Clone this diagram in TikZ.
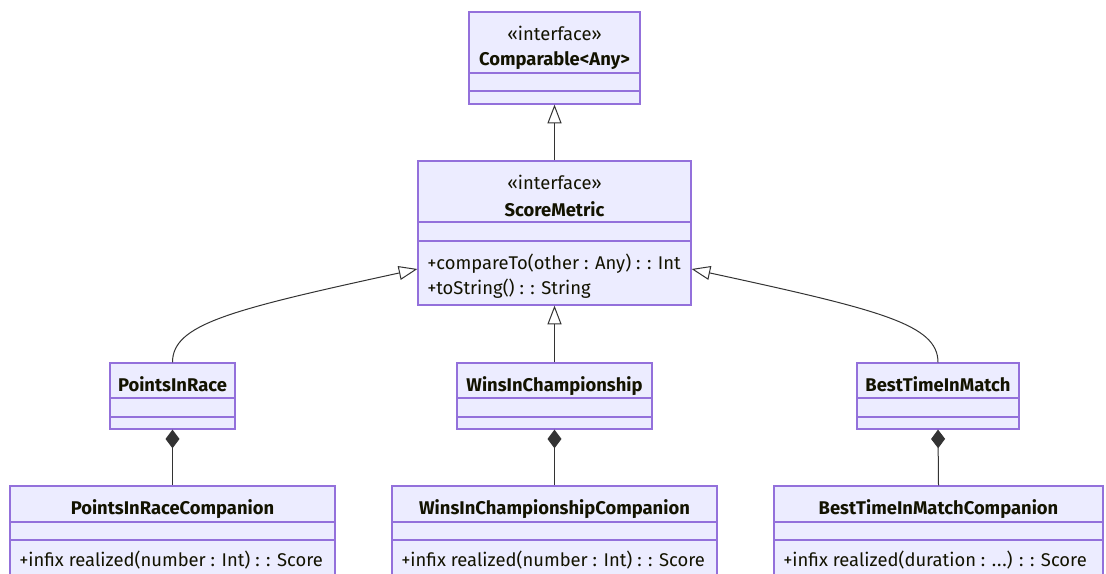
\documentclass[tikz,border=0pt]{standalone}
\usepackage{fontspec}
\setmainfont{Fira Sans}
\usetikzlibrary{arrows.meta,fit,calc}
\definecolor{clsfill}{HTML}{ECECFF}
\definecolor{clsborder}{HTML}{9370DB}
\definecolor{edge}{HTML}{333333}
\definecolor{txt}{HTML}{131300}
\tikzset{
  cls/.style={draw=clsborder, fill=clsfill, line width=0.9pt, inner sep=0pt},
  divider/.style={draw=clsborder, line width=0.9pt},
  title/.style={font=\fontsize{13.8pt}{15pt}\selectfont\bfseries, text=txt, inner sep=0pt, anchor=base},
  stereo/.style={font=\fontsize{13.8pt}{15pt}\selectfont, text=txt, inner sep=0pt, anchor=base},
  member/.style={font=\fontsize{13.8pt}{15pt}\selectfont, text=txt, inner sep=0pt, anchor=base west},
  inherit/.style={draw=edge, line width=0.75pt,
    -{Triangle[open, length=14pt, width=10.5pt, fill=white]}},
  compose/.style={draw=edge, line width=0.75pt,
    {Diamond[length=14pt, width=10.5pt, fill=edge]}-},
}
% class box: name, x1, y1, x2, y2, first divider, second divider
\newcommand\umlclass[7]{%
  \node[cls, fit={(#2,#3) (#4,#5)}] (#1) {};
  \draw[divider] (#2,#6) -- (#4,#6);
  \draw[divider] (#2,#7) -- (#4,#7);
}
\begin{document}
\begin{tikzpicture}[x=0.75pt, y=-0.75pt]
\useasboundingbox (0,0) rectangle (1106,574);
\clip (0,0) rectangle (1106,574);

% classes (text positions are baselines)
\umlclass{cmp}{469}{12}{640}{104}{73}{91}
\node[stereo] (cmpS) at (554.5,41) {«interface»};
\node[title] (cmpT) at (554.5,66) {Comparable<Any>};

\umlclass{sm}{418}{161}{691}{305}{222}{241}
\node[stereo] (smS) at (554.5,190) {«interface»};
\node[title] (smT) at (554.5,216) {ScoreMetric};
\node[member] (smM1) at (427,269) {+compareTo(other : Any) : : Int};
\node[member] (smM2) at (427,294) {+toString() : : String};

\umlclass{pir}{110}{363}{235}{429}{398}{417}
\node[title] (pirT) at (172.5,391) {PointsInRace};

\umlclass{wic}{457}{363}{652}{429}{398}{417}
\node[title] (wicT) at (554.5,391) {WinsInChampionship};

\umlclass{btm}{857}{363}{1019}{429}{398}{417}
\node[title] (btmT) at (938,391) {BestTimeInMatch};

\umlclass{pirc}{10}{486}{335}{595}{522}{540}
\node[title] (pircT) at (172.5,514) {PointsInRaceCompanion};
\node[member] (pircM) at (19,566) {+infix realized(number : Int) : : Score};

\umlclass{wicc}{392}{486}{717}{595}{522}{540}
\node[title] (wiccT) at (554.5,514) {WinsInChampionshipCompanion};
\node[member] (wiccM) at (401,566) {+infix realized(number : Int) : : Score};

\umlclass{btmc}{774}{486}{1103}{595}{522}{540}
\node[title] (btmcT) at (938.5,514) {BestTimeInMatchCompanion};
\node[member] (btmcM) at (783,566) {+infix realized(duration : .\kern0.6pt.\kern0.6pt.) : : Score};

% inheritance
\coordinate (smL) at ($(sm.west)+(0,36)$);
\coordinate (smR) at ($(sm.east)+(0,36)$);
\draw[inherit] (sm.north) -- (cmp.south);
\draw[inherit] (wic.north) -- (sm.south);
\draw[inherit] (pir.north) .. controls +(0,-38) and +(-188,41) .. (smL);
\draw[inherit] (btm.north) .. controls +(0,-38) and +(189,41) .. (smR);

% composition
\draw[compose] (pir.south) -- (pirc.north);
\draw[compose] (wic.south) -- (wicc.north);
\draw[compose] (btm.south) -- (btmc.north);
\end{tikzpicture}
\end{document}
